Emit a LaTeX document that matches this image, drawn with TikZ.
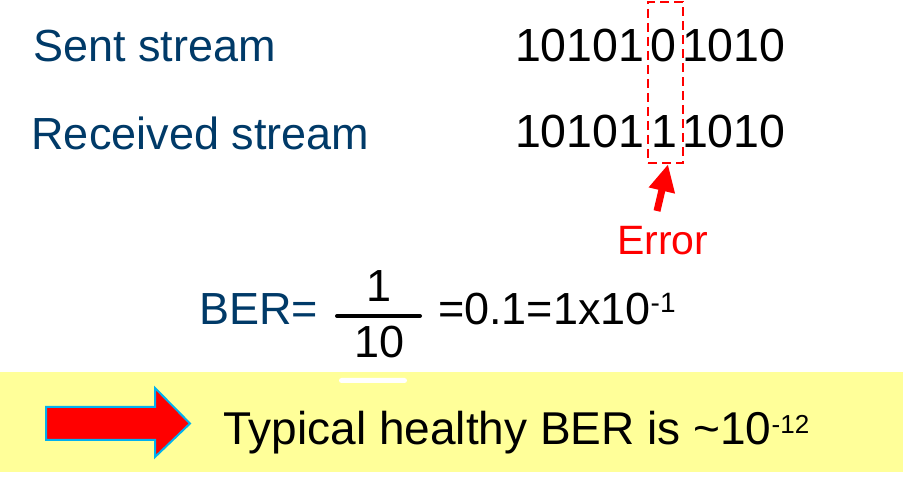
\documentclass[tikz,border=0pt]{standalone}
\usepackage{fontspec}
\setmainfont{Liberation Sans}
\usetikzlibrary{arrows.meta}
\definecolor{txtblue}{RGB}{0,58,104}
\definecolor{bandyellow}{RGB}{255,255,153}
\definecolor{arrowcyan}{RGB}{0,176,240}
\begin{document}
\begin{tikzpicture}[x=1pt,y=1pt,
  lbl/.style={inner sep=0pt,outer sep=0pt,anchor=base west,text=txtblue,font=\fontsize{45}{54}\selectfont},
  bits/.style={inner sep=0pt,outer sep=0pt,anchor=base west,text=black,font=\fontsize{46.5}{54}\selectfont},
  bigtxt/.style={inner sep=0pt,outer sep=0pt,text=black,font=\fontsize{45}{54}\selectfont}]
\useasboundingbox (0,0) rectangle (903,484);
\fill[white] (0,0) rectangle (903,484);
% yellow band
\fill[bandyellow] (0,12) rectangle (903,112);
\fill[white,rounded corners=2.5pt] (339,101) rectangle (407,106);
% stream labels
\node[lbl] (sent) at (33,422) {Sent stream};
\node[lbl] (recv) at (31.5,334) {Received stream};
% bit strings
\node[bits] (s1) at (515,422) {10101};
\node[bits] (s2) at (650,422) {0};
\node[bits] (s3) at (682,422) {1010};
\node[bits] (r1) at (515,336) {10101};
\node[bits] (r2) at (651,336) {1};
\node[bits] (r3) at (682,336) {1010};
% dashed error box
\node[draw=red,line width=2.5pt,dash pattern=on 9pt off 5pt,minimum width=35pt,minimum height=161pt,inner sep=0pt] (box) at (665.5,401.5) {};
% error label and arrow
\node[inner sep=0pt,anchor=base west,text=red,font=\fontsize{41}{48}\selectfont] (err) at (617,229) {Error};
\coordinate (etail) at (657,273);
\draw[red,line width=7pt,-{Triangle[length=27pt,width=25pt]}] (etail) -- ([xshift=2.5pt]box.south);
% BER formula
\node[lbl] (ber) at (199,159) {BER=};
\node[bigtxt,anchor=base] (num) at (379,182) {1};
\node[bigtxt,anchor=base] (den) at (380,126) {10};
\coordinate (barL) at (337,168);
\coordinate (barR) at (420,168);
\draw[black,line width=4pt,line cap=round] (barL) -- (barR);
\node[bigtxt,anchor=base west] (val) at (438,159) {=0.1=1x10\raisebox{12pt}{\fontsize{28}{32}\selectfont -1}};
% big arrow
\filldraw[fill=red,draw=arrowcyan,line width=2pt] (46,44) -- (155,44) -- (155,27) -- (190,60.5) -- (155,96) -- (155,77) -- (46,77) -- cycle;
% typical BER
\node[inner sep=0pt,anchor=base west,text=black,font=\fontsize{46}{54}\selectfont] (typ) at (223,39) {Typical healthy BER is \textasciitilde10\raisebox{11.5pt}{\fontsize{26}{30}\selectfont -12}};
\end{tikzpicture}
\end{document}
